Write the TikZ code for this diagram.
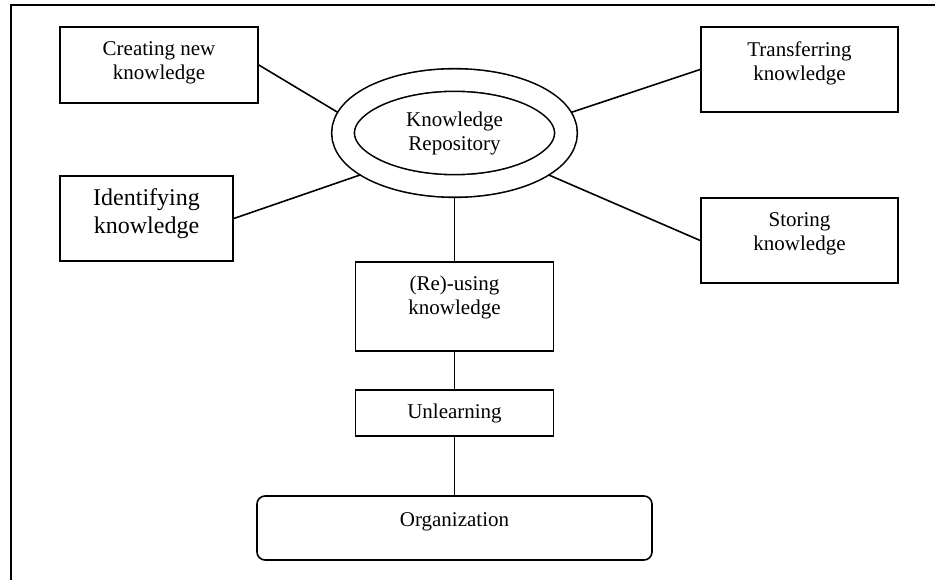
\documentclass[tikz,border=0pt]{standalone}
\usepackage{fontspec}
\setmainfont{Liberation Serif}
\usetikzlibrary{shapes.geometric}
\begin{document}
\begin{tikzpicture}[x=1pt,y=-1pt,line width=1.6pt,font=\fontsize{21}{24}\selectfont,
box/.style={draw,align=center,inner sep=0pt,minimum width=198pt}]
\useasboundingbox(0,0)rectangle(935,580);
\draw[line width=2pt](11,580)--(11,5)--(935,5);
\node[ellipse,draw,double,double distance=21pt,inner sep=0pt,outer sep=11.5pt,
minimum width=223pt,minimum height=106pt,align=center](repo)at(454.5,133){Knowledge\\Repository};
\node[box,minimum height=76pt,text depth=8.5pt](create)at(159,65){Creating new\\knowledge};
\node[box,minimum width=173pt,minimum height=85pt,text depth=14pt,
font=\fontsize{24}{28}\selectfont](ident)at(146.5,218.5){Identifying\\knowledge};
\node[box,minimum width=197pt,minimum height=85pt,text depth=17.5pt](transfer)at(799.5,69.5){Transferring\\knowledge};
\node[box,minimum width=197pt,minimum height=85pt,text depth=17.5pt](store)at(799.5,240.5){Storing\\knowledge};
\node[box,minimum height=89pt,text depth=22.5pt](reuse)at(454.5,306.5){(Re)-using\\knowledge};
\node[box,minimum height=46pt](unlearn)at(454.5,413){Unlearning};
\node[box,rounded corners=8pt,minimum width=395pt,minimum height=64pt,text depth=16.5pt](org)at(454.5,528){Organization};
\draw(create.east)--(repo.170)(ident.east)--(repo.204)
(transfer.west)--(repo.10)(store.west)--(repo.-24);
\draw(repo.south)--(reuse.north)(reuse.south)--(unlearn.north)
(unlearn.south)--(org.north);
\end{tikzpicture}
\end{document}
